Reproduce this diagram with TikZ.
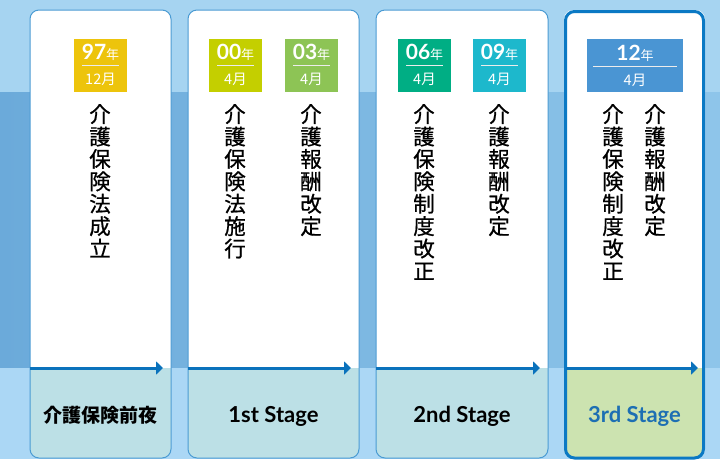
\documentclass[tikz,border=0pt]{standalone}
\usepackage{fontspec}
\usetikzlibrary{arrows.meta}
\newfontfamily\jp{Noto Sans CJK JP}
\newfontfamily\jpv[FakeBold=0.7]{Noto Sans CJK JP}
\newfontfamily\lat{Lato}
\definecolor{bgtop}{HTML}{A6D4F1}
\definecolor{bgmidL}{HTML}{6BAADA}
\definecolor{bgmidR}{HTML}{8EC5EA}
\definecolor{bgbot}{HTML}{ABD7F5}
\definecolor{cardline}{HTML}{4A9BD3}
\definecolor{cardstrong}{HTML}{0B79C4}
\definecolor{bottomcyan}{HTML}{BCE0E6}
\definecolor{bottomgreen}{HTML}{CCE3B0}
\definecolor{arrowblue}{HTML}{0A72BC}
\definecolor{c97}{HTML}{EDC40C}
\definecolor{c00}{HTML}{C4CF00}
\definecolor{c03}{HTML}{8DC455}
\definecolor{c06}{HTML}{00AE84}
\definecolor{c09}{HTML}{1DB8CC}
\definecolor{c12}{HTML}{4A95D3}
\definecolor{stageblue}{HTML}{1D6FB3}
\tikzset{
  badge/.style={fill=#1, minimum height=53pt, inner sep=0pt},
  yeartext/.style={anchor=base, text=white, inner sep=0pt, font=\lat\bfseries\fontsize{21}{21}\selectfont},
  monthtext/.style={anchor=base, text=white, inner sep=0pt, font=\jp\fontsize{14.5}{14.5}\selectfont},
  vtext/.style={anchor=north, align=center, inner sep=0pt, text=black, font=\jpv\fontsize{21.5}{22.4}\selectfont},
  stagetext/.style={anchor=base, inner sep=0pt, font=\lat\bfseries\fontsize{22}{22}\selectfont},
  timearrow/.style={draw=arrowblue, line width=3pt, -{Triangle[length=7pt,width=13pt]}},
  badgeline/.style={draw=white!85!gray, line width=1.5pt}
}
\newcommand{\yr}[1]{#1{\jp\mdseries\fontsize{13}{13}\selectfont 年}}
\begin{document}
\begin{tikzpicture}[x=1pt,y=-1pt]
\useasboundingbox (0,0) rectangle (720,459);
% background
\fill[bgtop] (0,0) rectangle (720,92);
\shade[left color=bgmidL, right color=bgmidR] (0,92) rectangle (720,368);
\fill[bgbot] (0,368) rectangle (720,459);

% cards
\foreach \l/\r/\bc in {30/171/bottomcyan, 188/359/bottomcyan, 376/548/bottomcyan, 564/705/bottomgreen}{
  \begin{scope}
    \fill[white, rounded corners=9pt] (\l,10) rectangle (\r,458);
    \clip[rounded corners=9pt] (\l,10) rectangle (\r,458);
    \fill[\bc] (\l,368) rectangle (\r,458);
  \end{scope}
}
\draw[cardline, line width=1pt, rounded corners=9pt] (30,10) rectangle (171,458);
\draw[cardline, line width=1pt, rounded corners=9pt] (188,10) rectangle (359,458);
\draw[cardline, line width=1pt, rounded corners=9pt] (376,10) rectangle (548,458);
\draw[cardstrong, line width=3pt, rounded corners=9pt] (565.5,11.5) rectangle (703.5,458);

% arrows
\coordinate (a1s) at (30,368);  \coordinate (a1e) at (163,368);
\coordinate (a2s) at (188,368); \coordinate (a2e) at (351,368);
\coordinate (a3s) at (376,368); \coordinate (a3e) at (540,368);
\coordinate (a4s) at (566,368); \coordinate (a4e) at (698,368);
\draw[timearrow] (a1s) -- (a1e);
\draw[timearrow] (a2s) -- (a2e);
\draw[timearrow] (a3s) -- (a3e);
\draw[timearrow] (a4s) -- (a4e);

% badges
\node[badge=c97, minimum width=53pt] (b97) at (100.5,65.5) {};
\node[badge=c00, minimum width=53pt] (b00) at (235.5,65.5) {};
\node[badge=c03, minimum width=53pt] (b03) at (311.5,65.5) {};
\node[badge=c06, minimum width=53pt] (b06) at (424.5,65.5) {};
\node[badge=c09, minimum width=53pt] (b09) at (499.5,65.5) {};
\node[badge=c12, minimum width=96pt] (b12) at (635,65.5) {};

\node[yeartext] (y97) at (100.5,59.5) {\yr{97}};
\node[yeartext] (y00) at (235.5,59.5) {\yr{00}};
\node[yeartext] (y03) at (311.5,59.5) {\yr{03}};
\node[yeartext] (y06) at (424.5,59.5) {\yr{06}};
\node[yeartext] (y09) at (499.5,59.5) {\yr{09}};
\node[yeartext] (y12) at (635,60.5) {\yr{12}};

\draw[badgeline] (82,65.5) -- (119,65.5);
\draw[badgeline] (217,65.5) -- (254,65.5);
\draw[badgeline] (293,65.5) -- (330,65.5);
\draw[badgeline] (406,65.5) -- (443,65.5);
\draw[badgeline] (481,65.5) -- (518,65.5);
\draw[badgeline] (593,66.5) -- (677,66.5);

\node[monthtext] (m97) at (100.5,84) {12月};
\node[monthtext] (m00) at (235.5,84) {4月};
\node[monthtext] (m03) at (311.5,84) {4月};
\node[monthtext] (m06) at (424.5,84) {4月};
\node[monthtext] (m09) at (499.5,84) {4月};
\node[monthtext] (m12) at (635,85) {4月};

% vertical texts
\node[vtext] (t1) at (100,104) {介\\護\\保\\険\\法\\成\\立};
\node[vtext] (t2) at (235,104) {介\\護\\保\\険\\法\\施\\行};
\node[vtext] (t3) at (311,104) {介\\護\\報\\酬\\改\\定};
\node[vtext] (t4) at (424,104) {介\\護\\保\\険\\制\\度\\改\\正};
\node[vtext] (t5) at (499,104) {介\\護\\報\\酬\\改\\定};
\node[vtext] (t6) at (613,104) {介\\護\\保\\険\\制\\度\\改\\正};
\node[vtext] (t7) at (655,104) {介\\護\\報\\酬\\改\\定};

% stage labels
\node[anchor=base, inner sep=0pt, font=\jp\bfseries\fontsize{19}{19}\selectfont] (s0) at (100.5,422) {介護保険前夜};
\node[stagetext] (s1) at (273.5,422) {1st Stage};
\node[stagetext] (s2) at (462,422) {2nd Stage};
\node[stagetext, text=stageblue] (s3) at (634.5,422) {3rd Stage};
\end{tikzpicture}
\end{document}
